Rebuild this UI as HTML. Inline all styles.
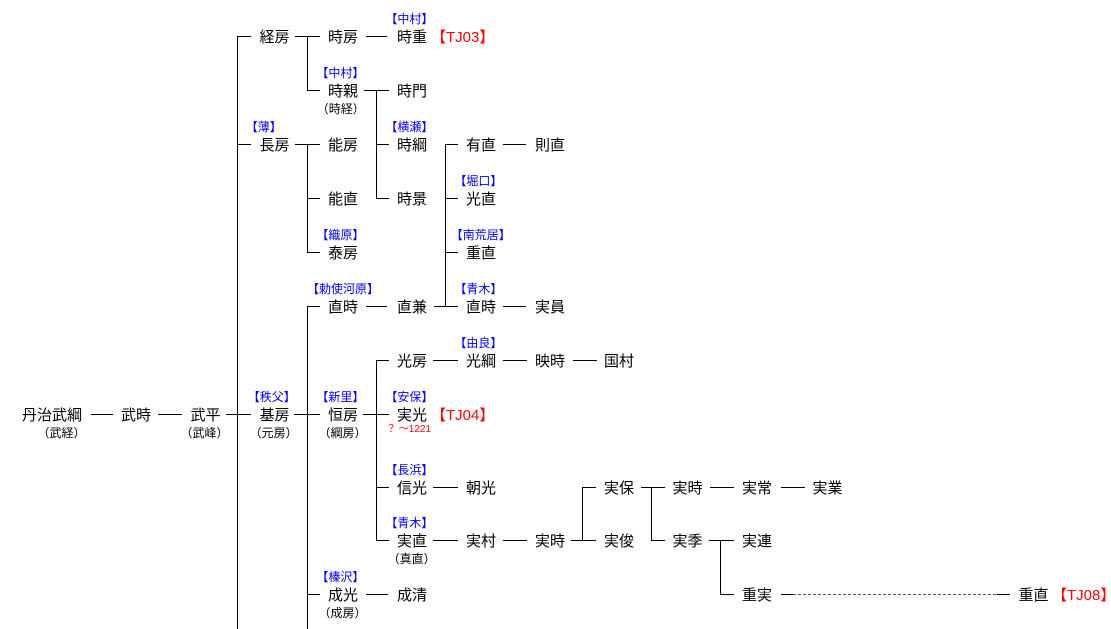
<!DOCTYPE html>
<html><head><meta charset="utf-8">
<style>
html,body{margin:0;padding:0;}
body{width:1111px;height:629px;overflow:hidden;background:#fff;position:relative;font-family:"Liberation Sans","Noto Sans CJK JP",sans-serif;}
.n{position:absolute;font-size:15px;line-height:15px;white-space:nowrap;color:#000;}
.l{position:absolute;font-size:12px;line-height:12px;white-space:nowrap;color:#0000ff;}
.s{position:absolute;font-size:12px;line-height:12px;white-space:nowrap;width:80px;text-align:center;color:#000;}
.r{color:#ff0000;}
.h{position:absolute;height:1px;background:#000;}
.v{position:absolute;width:1px;background:#000;}
</style></head><body>

<!-- vertical lines -->
<div class="v" style="left:237px;top:36px;height:593px"></div>
<div class="v" style="left:307px;top:36px;height:55px"></div>
<div class="v" style="left:307px;top:144px;height:109px"></div>
<div class="v" style="left:307px;top:306px;height:323px"></div>
<div class="v" style="left:376px;top:90px;height:109px"></div>
<div class="v" style="left:376px;top:360px;height:181px"></div>
<div class="v" style="left:445px;top:144px;height:163px"></div>
<div class="v" style="left:582px;top:487px;height:54px"></div>
<div class="v" style="left:651px;top:487px;height:54px"></div>
<div class="v" style="left:720px;top:540px;height:55px"></div>

<!-- R0 -->
<div class="h" style="left:237px;width:14px;top:36px"></div>
<div class="h" style="left:295px;width:25px;top:36px"></div>
<div class="h" style="left:366px;width:21px;top:36px"></div>
<!-- R1 -->
<div class="h" style="left:307px;width:13px;top:90px"></div>
<div class="h" style="left:364px;width:25px;top:90px"></div>
<!-- R2 -->
<div class="h" style="left:237px;width:14px;top:144px"></div>
<div class="h" style="left:295px;width:25px;top:144px"></div>
<div class="h" style="left:376px;width:13px;top:144px"></div>
<div class="h" style="left:445px;width:13px;top:144px"></div>
<div class="h" style="left:503px;width:23px;top:144px"></div>
<!-- R3 -->
<div class="h" style="left:307px;width:13px;top:198px"></div>
<div class="h" style="left:376px;width:13px;top:198px"></div>
<div class="h" style="left:445px;width:13px;top:198px"></div>
<!-- R4 -->
<div class="h" style="left:307px;width:13px;top:252px"></div>
<div class="h" style="left:445px;width:13px;top:252px"></div>
<!-- R5 -->
<div class="h" style="left:307px;width:13px;top:306px"></div>
<div class="h" style="left:366px;width:21px;top:306px"></div>
<div class="h" style="left:434px;width:24px;top:306px"></div>
<div class="h" style="left:503px;width:23px;top:306px"></div>
<!-- R6 -->
<div class="h" style="left:376px;width:13px;top:360px"></div>
<div class="h" style="left:433px;width:25px;top:360px"></div>
<div class="h" style="left:503px;width:24px;top:360px"></div>
<div class="h" style="left:573px;width:24px;top:360px"></div>
<!-- R7 -->
<div class="h" style="left:91px;width:22px;top:414px"></div>
<div class="h" style="left:158px;width:24px;top:414px"></div>
<div class="h" style="left:226px;width:25px;top:414px"></div>
<div class="h" style="left:294px;width:26px;top:414px"></div>
<div class="h" style="left:363px;width:26px;top:414px"></div>
<!-- R8 -->
<div class="h" style="left:376px;width:13px;top:487px"></div>
<div class="h" style="left:433px;width:25px;top:487px"></div>
<div class="h" style="left:582px;width:14px;top:487px"></div>
<div class="h" style="left:641px;width:24px;top:487px"></div>
<div class="h" style="left:710px;width:24px;top:487px"></div>
<div class="h" style="left:781px;width:24px;top:487px"></div>
<!-- R9 -->
<div class="h" style="left:376px;width:13px;top:540px"></div>
<div class="h" style="left:433px;width:25px;top:540px"></div>
<div class="h" style="left:503px;width:24px;top:540px"></div>
<div class="h" style="left:571px;width:25px;top:540px"></div>
<div class="h" style="left:651px;width:14px;top:540px"></div>
<div class="h" style="left:709px;width:25px;top:540px"></div>
<!-- R10 -->
<div class="h" style="left:307px;width:13px;top:594px"></div>
<div class="h" style="left:366px;width:22px;top:594px"></div>
<div class="h" style="left:720px;width:14px;top:594px"></div>
<svg style="position:absolute;left:780px;top:590px" width="240" height="8">
<line x1="1" y1="4.5" x2="13" y2="4.5" stroke="#000" stroke-width="1"/>
<line x1="13" y1="4.5" x2="217" y2="4.5" stroke="#555" stroke-width="1" stroke-dasharray="3,2"/>
<line x1="217" y1="4.5" x2="230" y2="4.5" stroke="#000" stroke-width="1"/>
</svg>

<!-- node names -->
<div class="n" style="left:259.5px;top:30px">経房</div>
<div class="n" style="left:328px;top:30px">時房</div>
<div class="n" style="left:397px;top:30px">時重</div>
<div class="n r" style="left:431px;top:30px">【TJ03】</div>

<div class="n" style="left:328px;top:84px">時親</div>
<div class="n" style="left:397px;top:84px">時門</div>

<div class="n" style="left:259.5px;top:138px">長房</div>
<div class="n" style="left:328px;top:138px">能房</div>
<div class="n" style="left:397px;top:138px">時綱</div>
<div class="n" style="left:466px;top:138px">有直</div>
<div class="n" style="left:535px;top:138px">則直</div>

<div class="n" style="left:328px;top:192px">能直</div>
<div class="n" style="left:397px;top:192px">時景</div>
<div class="n" style="left:466px;top:192px">光直</div>

<div class="n" style="left:328px;top:246px">泰房</div>
<div class="n" style="left:466px;top:246px">重直</div>

<div class="n" style="left:328px;top:300px">直時</div>
<div class="n" style="left:397px;top:300px">直兼</div>
<div class="n" style="left:466px;top:300px">直時</div>
<div class="n" style="left:535px;top:300px">実員</div>

<div class="n" style="left:397px;top:354px">光房</div>
<div class="n" style="left:466px;top:354px">光綱</div>
<div class="n" style="left:535px;top:354px">映時</div>
<div class="n" style="left:604px;top:354px">国村</div>

<div class="n" style="left:22px;top:408px">丹治武綱</div>
<div class="n" style="left:121px;top:408px">武時</div>
<div class="n" style="left:190.5px;top:408px">武平</div>
<div class="n" style="left:259.5px;top:408px">基房</div>
<div class="n" style="left:328px;top:408px">恒房</div>
<div class="n" style="left:397px;top:408px">実光</div>
<div class="n r" style="left:431px;top:408px">【TJ04】</div>
<div class="r" style="position:absolute;left:386px;top:425px;font-size:10px;line-height:10px;white-space:nowrap">？ ～1221</div>

<div class="n" style="left:397px;top:481px">信光</div>
<div class="n" style="left:466px;top:481px">朝光</div>
<div class="n" style="left:604px;top:481px">実保</div>
<div class="n" style="left:672.5px;top:481px">実時</div>
<div class="n" style="left:742px;top:481px">実常</div>
<div class="n" style="left:812.5px;top:481px">実業</div>

<div class="n" style="left:397px;top:534px">実直</div>
<div class="n" style="left:466px;top:534px">実村</div>
<div class="n" style="left:535px;top:534px">実時</div>
<div class="n" style="left:604px;top:534px">実俊</div>
<div class="n" style="left:672.5px;top:534px">実季</div>
<div class="n" style="left:742px;top:534px">実連</div>

<div class="n" style="left:328px;top:588px">成光</div>
<div class="n" style="left:397px;top:588px">成清</div>
<div class="n" style="left:742px;top:588px">重実</div>
<div class="n" style="left:1018.5px;top:588px">重直</div>
<div class="n r" style="left:1052px;top:588px">【TJ08】</div>

<!-- sub names -->
<div class="s" style="left:21.5px;top:426.5px">（武経）</div>
<div class="s" style="left:164.5px;top:426.5px">（武峰）</div>
<div class="s" style="left:233.7px;top:426.5px">（元房）</div>
<div class="s" style="left:302.5px;top:426.5px">（綱房）</div>
<div class="s" style="left:300.8px;top:102.5px">（時経）</div>
<div class="s" style="left:371.7px;top:552.5px">（真直）</div>
<div class="s" style="left:302.5px;top:606.5px">（成房）</div>

<!-- family labels -->
<div class="l" style="left:385.4px;top:13px">【中村】</div>
<div class="l" style="left:316.4px;top:67px">【中村】</div>
<div class="l" style="left:245.7px;top:121px">【薄】</div>
<div class="l" style="left:385.4px;top:121px">【横瀬】</div>
<div class="l" style="left:454.4px;top:175px">【堀口】</div>
<div class="l" style="left:316.4px;top:229px">【織原】</div>
<div class="l" style="left:450.7px;top:229px">【南荒居】</div>
<div class="l" style="left:307px;top:283px">【勅使河原】</div>
<div class="l" style="left:454.4px;top:283px">【青木】</div>
<div class="l" style="left:454.4px;top:337px">【由良】</div>
<div class="l" style="left:247.7px;top:391px">【秩父】</div>
<div class="l" style="left:316.4px;top:391px">【新里】</div>
<div class="l" style="left:385.4px;top:391px">【安保】</div>
<div class="l" style="left:385.4px;top:464px">【長浜】</div>
<div class="l" style="left:385.4px;top:517px">【青木】</div>
<div class="l" style="left:316.4px;top:571px">【榛沢】</div>

</body></html>
